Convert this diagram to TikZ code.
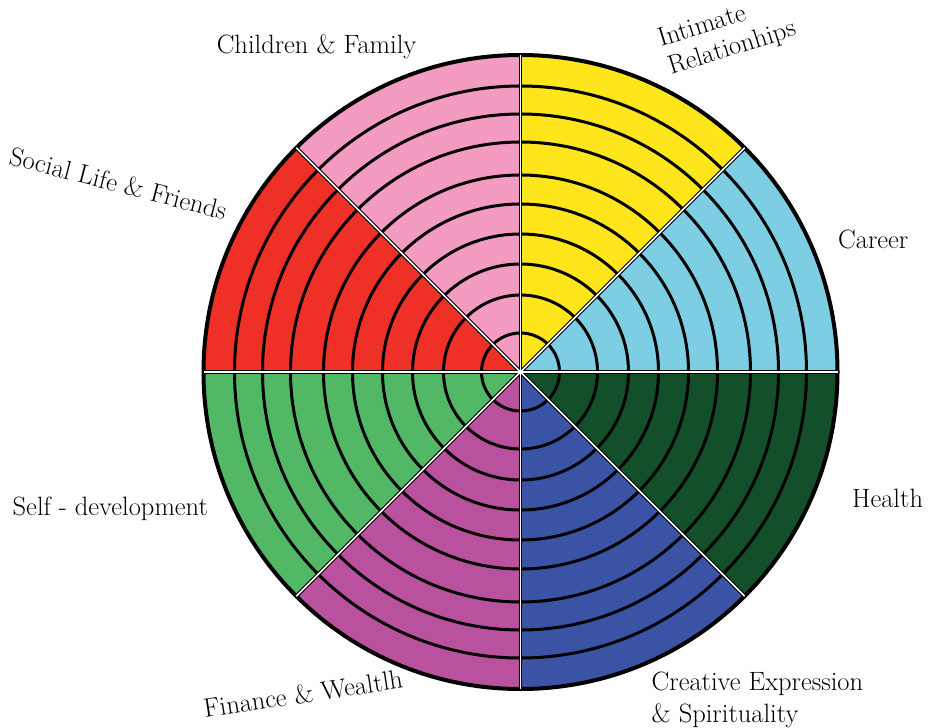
\documentclass[tikz,border=0pt]{standalone}
\usepackage{fontspec}
\usetikzlibrary{calc}
\definecolor{cpink}{HTML}{F39BC1}
\definecolor{cyellow}{HTML}{FFE51B}
\definecolor{cblue}{HTML}{7ECEE3}
\definecolor{cred}{HTML}{EE3026}
\definecolor{cgreen}{HTML}{52B866}
\definecolor{cpurple}{HTML}{B9519E}
\definecolor{croyal}{HTML}{3A53A4}
\definecolor{cdark}{HTML}{124F2A}
\begin{document}
\begin{tikzpicture}[x=1pt,y=-1pt,
  ring/.style={draw=black,line width=3pt},
  rim/.style={draw=black,line width=4pt},
  lab/.style={font=\fontsize{26.5}{32}\selectfont,inner sep=0pt,text=black,anchor=base west}]
\useasboundingbox (0,0) rectangle (929,728);
\coordinate (c) at (520.5,372);
% sectors (angles measured counterclockwise on screen)
\foreach \a/\col in {0/cblue,45/cyellow,90/cpink,135/cred,180/cgreen,225/cpurple,270/croyal,315/cdark}{
  \fill[\col] (c) -- ++({cos(\a)*317},{-sin(\a)*317}) arc[start angle=-\a,end angle={-\a-45},radius=317] -- cycle;
}
% rings
\foreach \r in {39,77,108,138,168,197,230,258,286}{
  \draw[ring] (c) circle[radius=\r];
}
\draw[rim] (c) circle[radius=317];
% separators
\foreach \a in {0,45,...,315}{
  \coordinate (e\a) at ($(c)+({cos(\a)*317},{-sin(\a)*317})$);
}
\foreach \a in {0,45,...,315}{
  \draw[black,line width=3.8pt] (c) -- (e\a);
}
\foreach \a in {0,45,...,315}{
  \draw[white,line width=1.5pt] (c) -- (e\a);
}
% labels
\node[lab,anchor=base] (l1) at (316.5,53) {Children \& Family};
\node[lab,rotate=17.5] (l2a) at (661,47) {Intimate};
\node[lab,rotate=17.5] (l2b) at (671,75) {Relationhips};
\node[lab,rotate=-14.5] (l3) at (8,164) {Social Life \& Friends};
\node[lab] (l4) at (838,248) {Career};
\node[lab] (l5) at (852,507) {Health};
\node[lab] (l6) at (12.5,515) {Self - development};
\node[lab,rotate=8.6] (l7) at (205,718) {Finance \& Wealtlh};
\node[lab] (l8a) at (651.5,690) {Creative Expression};
\node[lab] (l8b) at (651.5,722) {\& Spirituality};
\end{tikzpicture}
\end{document}
